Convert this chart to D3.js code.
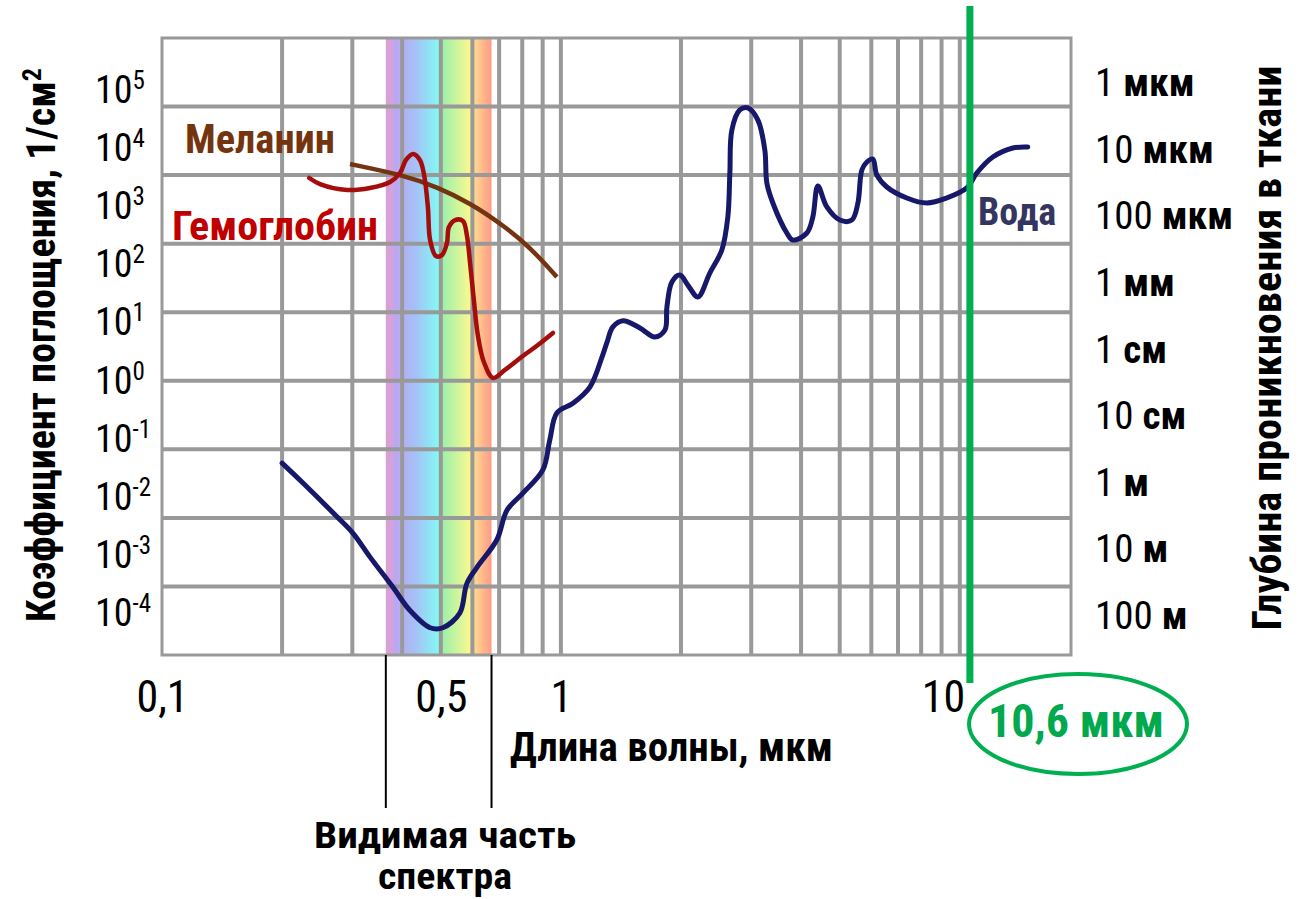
<!DOCTYPE html>
<html><head><meta charset="utf-8">
<script src="https://cdn.jsdelivr.net/npm/d3@7"></script>
<style>
html,body{margin:0;padding:0;background:#fff;}
svg{display:block;}
</style></head><body>
<svg id="chart" width="1304" height="899"></svg>
<script>
// ---------- DATA ----------
// Water absorption (wavelength, µm ; absorption, 1/cm)
const waterWl = [0.200,0.226,0.275,0.301,0.332,0.379,0.418,0.470,0.506,0.558,0.581,0.616,0.691,0.733,0.803,0.901,0.938,0.977,1.072,1.182,1.267,1.304,1.350,1.430,1.578,1.720,1.823,1.844,1.898,1.987,2.081,2.205,2.362,2.532,2.621,2.652,2.683,2.809,2.942,3.116,3.245,3.283,3.399,3.685,3.814,4.136,4.281,4.407,4.642,5.002,5.361,5.553,5.682,5.848,6.053,6.194,6.561,7.364,8.265,9.277,10.41,11.03,12.10,13.58,14.81];
const waterAbs = [0.063,0.032,0.0103,0.0060,0.0027,0.00098,0.00045,0.00025,0.00025,0.00041,0.0011,0.0019,0.0048,0.013,0.023,0.050,0.137,0.34,0.47,0.81,2.2,3.6,6.1,7.5,5.9,4.35,5.5,11.9,27.6,34.9,24.9,16.7,37.3,81,245,1074,4550,8910,9530,6370,2325,768,392,143,113,143,245,694,343,221,221,392,1188,1553,1718,1004,671,464,392,464,649,1074,1837,2486,2570];
// Hemoglobin
const hbWl = [0.234,0.249,0.291,0.332,0.373,0.395,0.409,0.426,0.443,0.454,0.464,0.470,0.486,0.503,0.518,0.524,0.543,0.568,0.581,0.592,0.605,0.619,0.641,0.676,0.724,0.803,0.876,0.955];
const hbAbs = [908,741,607,649,794,1074,1663,2032,1663,1004,343,113,66,68,102,175,221,214,134,52,15.1,4.66,1.88,1.10,1.44,2.30,3.33,4.98];
// Melanin
const melWl = [0.296,0.402,0.489,0.592,0.715,0.836,0.977];
const melAbs = [1452,1004,671,392,187,89.5,32.7];

// Grid / ticks
const gridWl = [0.2,0.3,0.4,0.5,0.6,0.7,0.8,0.9,1,2,3,4,5,6,7,8,9,10];
const gridAbs = [1e-3,1e-2,1e-1,1,10,100,1e3,1e4];
const xTickVals = [0.1, 0.5, 1, 10];
const yTickExp = [5,4,3,2,1,0,-1,-2,-3,-4];
const depthNum = ["1","10","100","1","1","10","1","10","100"];
const depthUnit = ["мкм","мкм","мкм","мм","см","см","м","м","м"];
const visibleRange = [0.364, 0.67];
const visibleCaption = ["Видимая часть", "спектра"];
const laserWl = 10.6;
const spectrumStops = [[0.364,'#d9a0d3'],[0.378,'#d6a2dc'],[0.382,'#bba6f0'],[0.43,'#a6bff6'],[0.49,'#86f5f5'],[0.505,'#9df0ad'],[0.59,'#f8f88f'],[0.605,'#ffda90'],[0.67,'#ff9a86']];

// ---------- SETUP ----------
const NARROW = "'Liberation Sans Narrow','Arial Narrow','Roboto Condensed',sans-serif";
const svg = d3.select('#chart');
const P = {left:162, right:1071, top:38, bottom:655};
const x = d3.scaleLog().domain([0.1, 19]).range([P.left, P.right]);
const y = d3.scaleLog().domain([1e-4, 1e5]).range([P.bottom, P.top]);

svg.append('rect').attr('width',1304).attr('height',899).attr('fill','#fff');

// spectrum gradient
const defs = svg.append('defs');
const x0 = x(visibleRange[0]), x1 = x(visibleRange[1]);
const grad = defs.append('linearGradient').attr('id','spec').attr('x1','0').attr('x2','1').attr('y1','0').attr('y2','0');
grad.selectAll('stop').data(spectrumStops).join('stop')
  .attr('offset', d => (x(d[0]) - x0) / (x1 - x0))
  .attr('stop-color', d => d[1]);
svg.append('rect').attr('x', x0).attr('y', P.top).attr('width', x1 - x0).attr('height', P.bottom - P.top).attr('fill','url(#spec)');

// grid
const grid = svg.append('g').attr('stroke','#999').attr('stroke-width',4);
grid.selectAll('line.v').data(gridWl).join('line').attr('class','v')
  .attr('x1', d => x(d)).attr('x2', d => x(d)).attr('y1', P.top).attr('y2', P.bottom);
grid.selectAll('line.h').data(gridAbs).join('line').attr('class','h')
  .attr('x1', P.left).attr('x2', P.right).attr('y1', d => y(d)).attr('y2', d => y(d));
svg.append('rect').attr('x',P.left).attr('y',P.top).attr('width',P.right-P.left).attr('height',P.bottom-P.top)
  .attr('fill','none').attr('stroke','#999').attr('stroke-width',3);

// visible-range markers
svg.selectAll('line.vis').data(visibleRange).join('line').attr('class','vis')
  .attr('x1', d => x(d)).attr('x2', d => x(d)).attr('y1', P.bottom).attr('y2', 808)
  .attr('stroke','#000').attr('stroke-width',2);

// curves
const line = d3.line().x(d => x(d[0])).y(d => y(d[1])).curve(d3.curveCatmullRom.alpha(0.5));
const zip = (a,b) => a.map((v,i) => [v,b[i]]);
svg.append('path').attr('d', d3.line().x(d=>x(d[0])).y(d=>y(d[1])).curve(d3.curveBasis)(zip(melWl, melAbs)))
  .attr('fill','none').attr('stroke','#74340f').attr('stroke-width',4.5);
svg.append('path').attr('d', line(zip(hbWl, hbAbs)))
  .attr('fill','none').attr('stroke','#a50d0d').attr('stroke-width',4.5).attr('stroke-linejoin','round').attr('stroke-linecap','round');
svg.append('path').attr('d', line(zip(waterWl, waterAbs)))
  .attr('fill','none').attr('stroke','#17186a').attr('stroke-width',5).attr('stroke-linejoin','round').attr('stroke-linecap','round');

// laser line
svg.append('line').attr('x1', x(laserWl)).attr('x2', x(laserWl)).attr('y1', 6).attr('y2', 683)
  .attr('stroke','#00b050').attr('stroke-width',7);

// x tick labels
const xAxis = d3.axisBottom(x).tickValues(xTickVals).tickFormat(d => String(d).replace('.', ',')).tickSize(0).tickPadding(0);
const gx = svg.append('g').attr('transform','translate(0,712)').call(xAxis);
gx.select('.domain').remove();
gx.selectAll('text').attr('y',0).attr('dy',null).attr('font-family',NARROW).attr('font-size',44).attr('fill','#000');
gx.selectAll('.tick').filter(d => d === 10).select('text').attr('text-anchor','end').attr('x',5);

// y tick labels (left)
const yLab = d3.scaleLinear().domain([5,-4]).range([89,612]);
const ly = svg.append('g').attr('font-family',NARROW).attr('fill','#000');
const lt = ly.selectAll('text').data(yTickExp).join('text')
  .attr('x',95).attr('y', d => yLab(d) + 14).attr('font-size',38);
lt.append('tspan').text('10');
lt.append('tspan').attr('font-size',25).attr('dy',-14).text(d => String(d));

// right depth labels
const yDepth = d3.scalePoint().domain(d3.range(depthNum.length)).range([82,615]);
const rd = svg.append('g').attr('font-family',NARROW).attr('fill','#000').attr('font-size',39);
const rt = rd.selectAll('text').data(d3.range(depthNum.length)).join('text')
  .attr('x',1095).attr('y', i => yDepth(i) + 14);
rt.append('tspan').text(i => depthNum[i] + ' ');
rt.append('tspan').attr('font-weight','bold').text(i => depthUnit[i]);

// series labels
svg.append('text').attr('x',185).attr('y',153).attr('font-family',NARROW).attr('font-weight','bold').attr('font-size',41)
  .attr('fill','#74340f').attr('textLength',150).attr('lengthAdjust','spacingAndGlyphs').text('Меланин');
svg.append('text').attr('x',172).attr('y',240).attr('font-family',NARROW).attr('font-weight','bold').attr('font-size',41)
  .attr('fill','#c00000').attr('textLength',206).attr('lengthAdjust','spacingAndGlyphs').text('Гемоглобин');
svg.append('text').attr('x',978).attr('y',225).attr('font-family',NARROW).attr('font-weight','bold').attr('font-size',38)
  .attr('fill','#343660').text('Вода');

// axis titles
const lTitle = svg.append('text').attr('transform','translate(55,345) rotate(-90)').attr('text-anchor','middle')
  .attr('font-family',NARROW).attr('font-weight','bold').attr('font-size',40).attr('fill','#000');
lTitle.append('tspan').text('Коэффициент поглощения, 1/см');
lTitle.append('tspan').attr('font-size',26).attr('dy',-14).text('2');
svg.append('text').attr('transform','translate(1281,348) rotate(-90)').attr('text-anchor','middle')
  .attr('font-family',NARROW).attr('font-weight','bold').attr('font-size',40).attr('fill','#000')
  .attr('textLength',565).attr('lengthAdjust','spacingAndGlyphs')
  .text('Глубина проникновения в ткани');
svg.append('text').attr('x',510).attr('y',761).attr('font-family',NARROW).attr('font-weight','bold').attr('font-size',40)
  .attr('fill','#000').attr('textLength',323).attr('lengthAdjust','spacingAndGlyphs').text('Длина волны, мкм');

// visible spectrum caption (two lines)
svg.selectAll('text.vcap').data(visibleCaption).join('text').attr('class','vcap')
  .attr('x',445).attr('y',(d,i) => i === 0 ? 848 : 889)
  .attr('text-anchor','middle').attr('font-family',NARROW).attr('font-weight','bold')
  .attr('font-size',36).attr('fill','#000')
  .attr('textLength',(d,i) => i === 0 ? 262 : 134).attr('lengthAdjust','spacingAndGlyphs')
  .text(d => d);

// laser annotation
svg.append('ellipse').attr('cx',1078).attr('cy',724).attr('rx',109).attr('ry',50)
  .attr('fill','none').attr('stroke','#00b050').attr('stroke-width',4);
svg.append('text').attr('x',1076).attr('y',737).attr('text-anchor','middle').attr('font-family',NARROW).attr('font-weight','bold').attr('font-size',46)
  .attr('fill','#00a84e').text('10,6 мкм');
</script>
</body></html>
